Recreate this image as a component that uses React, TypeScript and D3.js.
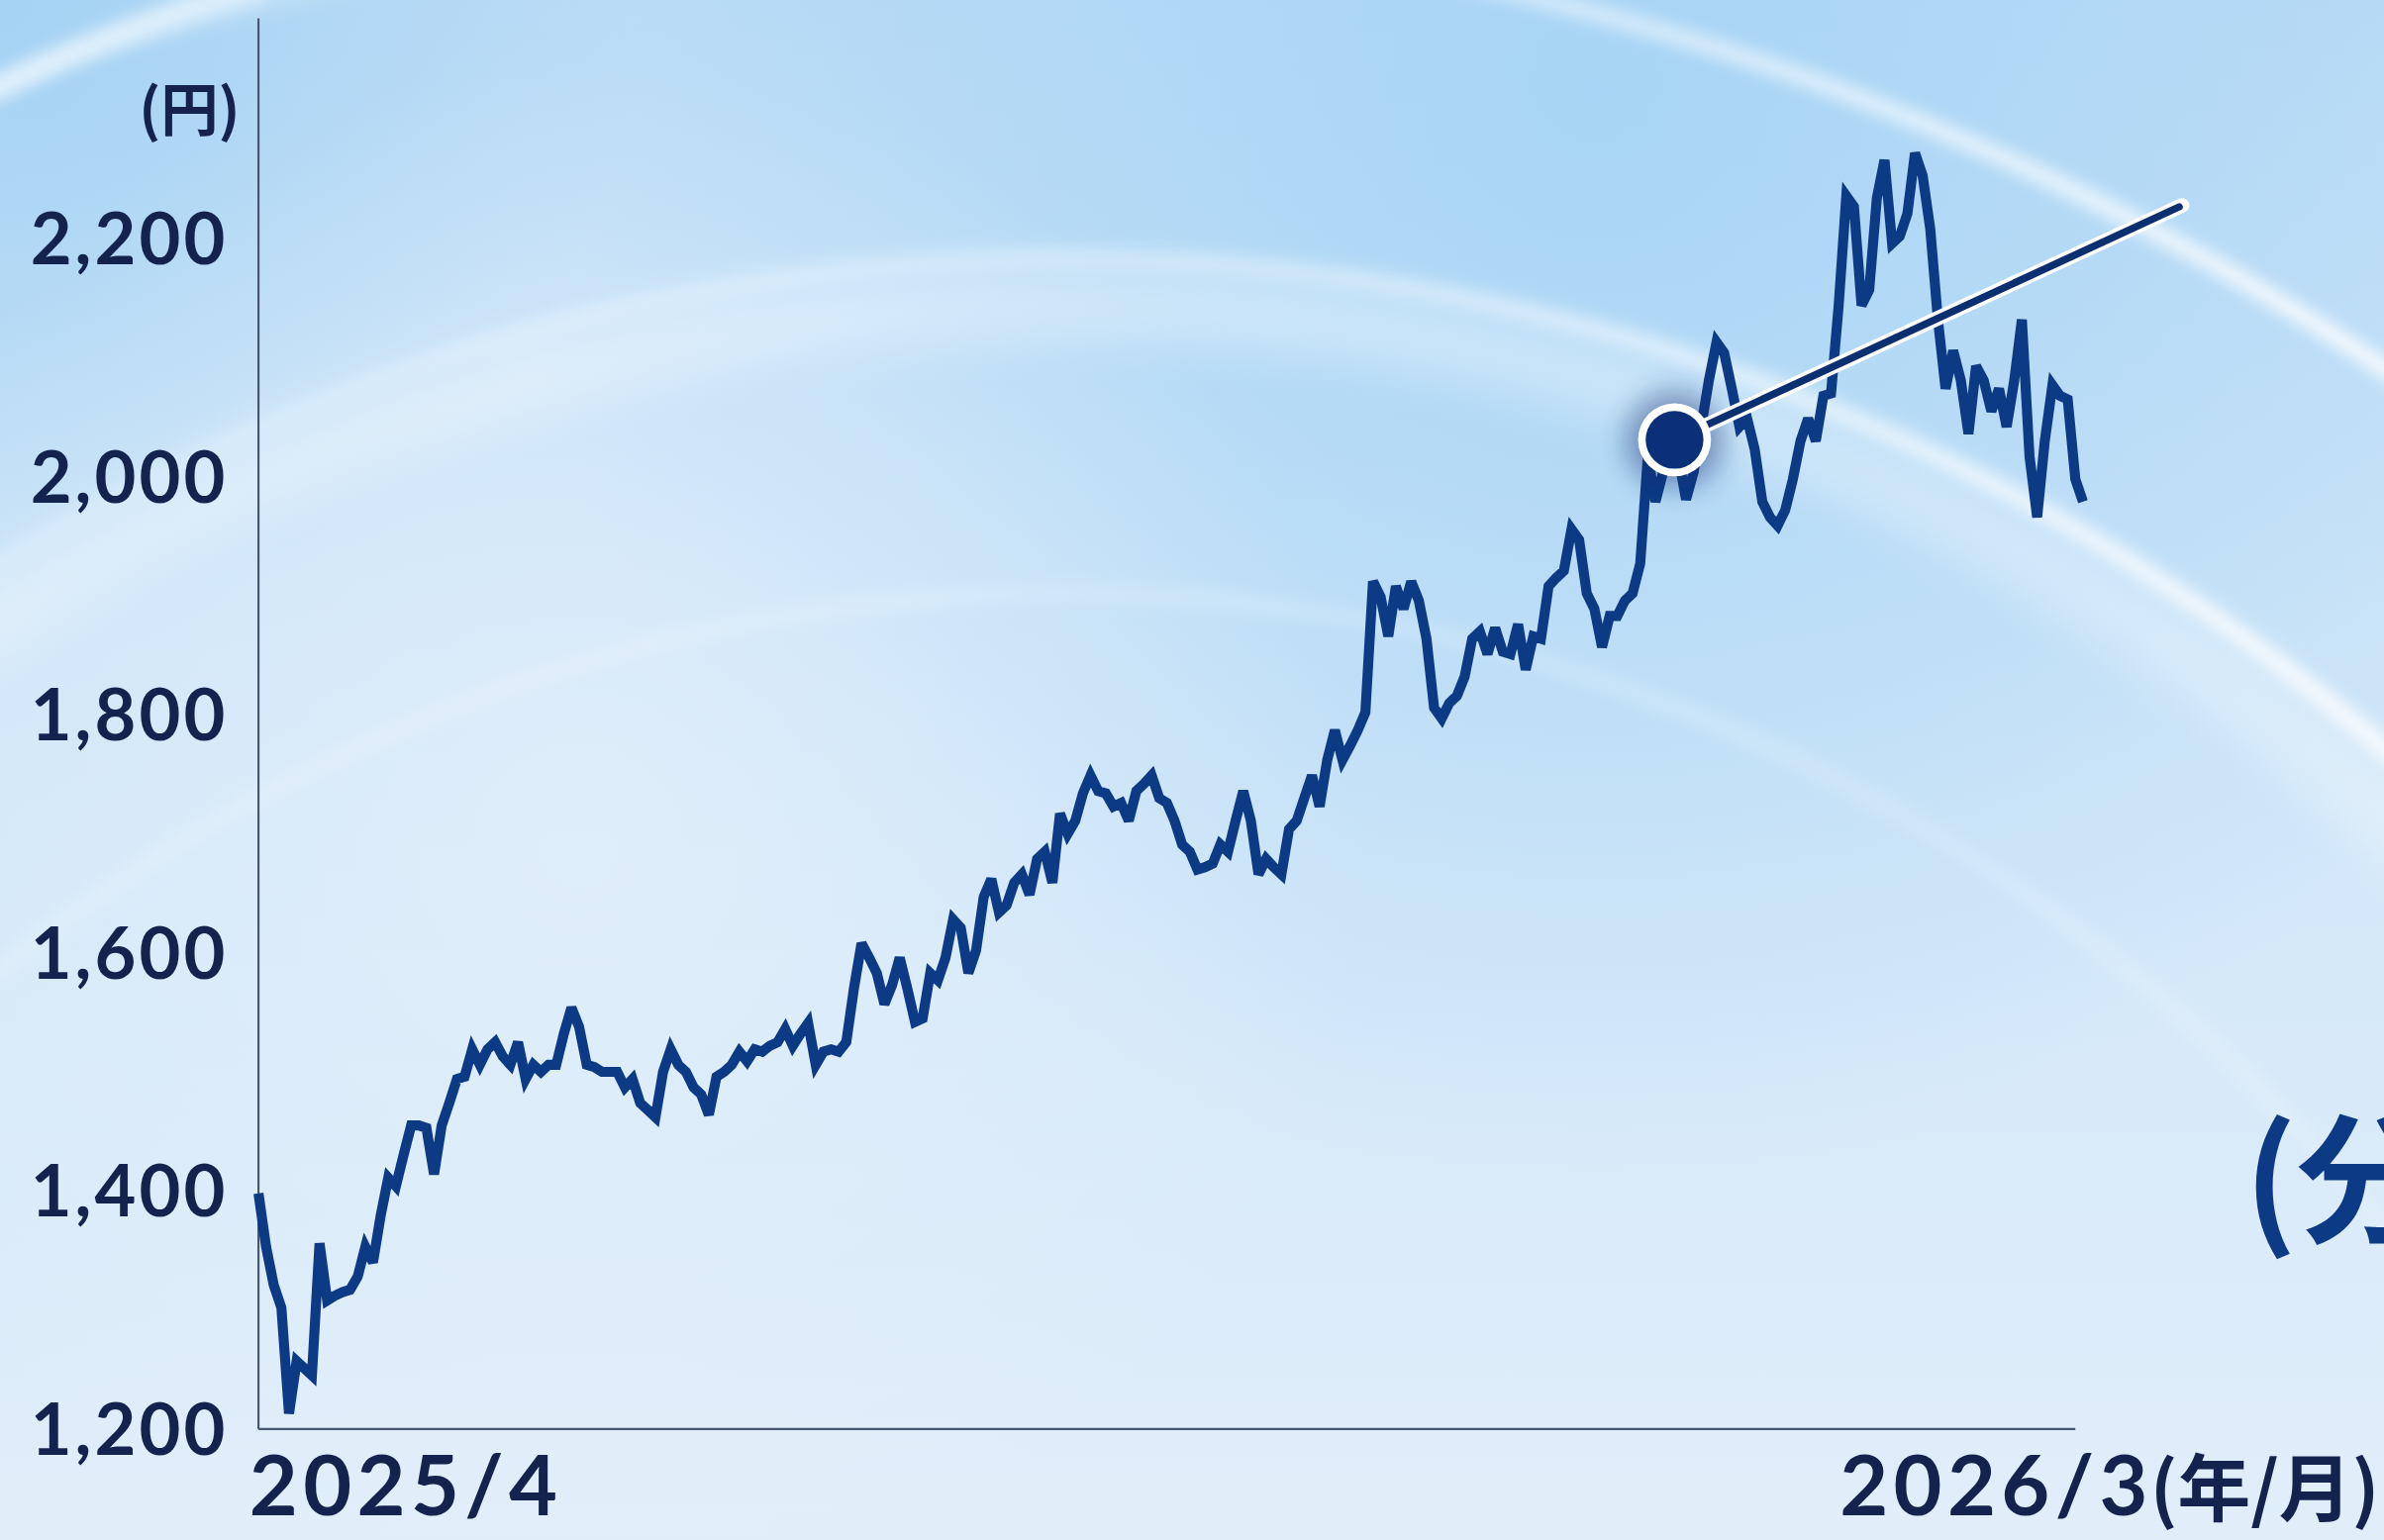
import * as d3 from "d3";

// canvas is drawn in the reference's 1568-wide units and stretched to the page
const VIEW_W = 1568;
const VIEW_H = 1013;
const MARGIN = { top: 12, right: 200, bottom: 73, left: 170 };

// share price (円), one reading per trading day, 2025/4 → 2026/3
const prices = [
  1398, 1353, 1321, 1302, 1213, 1257, 1251, 1245, 1356, 1308, 1312, 1315, 1317, 1328, 1353, 1340,
  1379, 1411, 1404, 1430, 1455, 1455, 1453, 1414, 1455, 1474, 1494, 1496, 1519, 1506, 1519, 1525,
  1513, 1506, 1525, 1494, 1506, 1500, 1506, 1506, 1532, 1554, 1538, 1506, 1504, 1500, 1500, 1500,
  1487, 1494, 1474, 1468, 1462, 1500, 1519, 1506, 1500, 1487, 1481, 1464, 1496, 1500, 1506, 1517,
  1509, 1519, 1517, 1522, 1525, 1536, 1522, 1532, 1541, 1506, 1517, 1519, 1517, 1525, 1570, 1608,
  1596, 1583, 1557, 1573, 1596, 1570, 1542, 1545, 1583, 1577, 1596, 1628, 1621, 1583, 1602, 1647,
  1662, 1634, 1640, 1659, 1666, 1649, 1679, 1685, 1659, 1717, 1700, 1711, 1734, 1749, 1736, 1734,
  1723, 1726, 1711, 1736, 1742, 1749, 1730, 1726, 1711, 1691, 1685, 1670, 1672, 1675, 1691, 1685,
  1711, 1736, 1711, 1666, 1679, 1672, 1666, 1704, 1711, 1730, 1749, 1723, 1762, 1787, 1762, 1774,
  1787, 1802, 1912, 1899, 1866, 1908, 1889, 1912, 1896, 1864, 1806, 1797, 1810, 1816, 1832,
  1864, 1870, 1851, 1873, 1853, 1851, 1876, 1838, 1866, 1864, 1908, 1915, 1921, 1956, 1947, 1902,
  1889, 1857, 1883, 1883, 1896, 1902, 1927, 2017, 1979, 2004, 2010, 2017, 1981, 2004, 2042,
  2081, 2113, 2104, 2074, 2042, 2049, 2023, 1979, 1966, 1959, 1972, 1998, 2030, 2049, 2030, 2068,
  2070, 2144, 2236, 2227, 2144, 2157, 2234, 2266, 2196, 2202, 2221, 2272, 2253, 2208, 2132, 2074,
  2106, 2081, 2036, 2093, 2081, 2055, 2074, 2042, 2081, 2132, 2017, 1966, 2030, 2077, 2068, 2065,
  1998, 1979,
];

const yTicks = [1200, 1400, 1600, 1800, 2000, 2200];
const xLabels = ["2025/4", "2026/3"];
const unitLabel = "(円)";
const xUnitLabel = "(年/月)";
const sideNote = "(分割調整後)";

// callout: marker on the line and the leader that runs up to the right
const callout = { index: 185.5, value: 2031 };
const calloutEnd = { index: 252, value: 2228 };

const NAVY = "#0d3a85";
const INK = "#14234d";
const FONT = "Lato, 'Noto Sans', sans-serif";
const CJK = "'Noto Sans CJK JP', 'Noto Sans', sans-serif";

export default function App() {
  const boundsW = VIEW_W - MARGIN.left - MARGIN.right;
  const bottom = VIEW_H - MARGIN.bottom;

  const xScale = d3
    .scaleLinear()
    .domain([0, prices.length - 1])
    .range([MARGIN.left, MARGIN.left + boundsW + 2]);

  const yScale = d3.scaleLinear().domain([1200, 2200]).range([bottom, 157]);

  const line = d3
    .line<number>()
    .x((_, i) => xScale(i))
    .y((d) => yScale(d))
    .curve(d3.curveLinear);

  const fmt = d3.format(",");

  const cx = xScale(callout.index);
  const cy = yScale(callout.value);
  const ex = xScale(calloutEnd.index);
  const ey = yScale(calloutEnd.value);

  return (
    <svg
      width={2408}
      height={1556}
      viewBox={`0 0 ${VIEW_W} ${VIEW_H}`}
      preserveAspectRatio="none"
      style={{ position: "fixed", left: 0, top: 0, display: "block" }}
    >
      <defs>
        <linearGradient id="bg" x1="0" y1="0" x2="0" y2="1">
          <stop offset="0" stopColor="#bcdcf6" />
          <stop offset="0.45" stopColor="#d0e6f8" />
          <stop offset="1" stopColor="#e1eefa" />
        </linearGradient>
        <radialGradient id="sky" cx="1050" cy="60" r="720" gradientUnits="userSpaceOnUse">
          <stop offset="0" stopColor="#a6d4f5" stopOpacity="0.9" />
          <stop offset="1" stopColor="#a6d4f5" stopOpacity="0" />
        </radialGradient>
        <radialGradient id="corner" cx="0" cy="0" r="420" gradientUnits="userSpaceOnUse">
          <stop offset="0" stopColor="#9fd0f3" stopOpacity="0.8" />
          <stop offset="1" stopColor="#9fd0f3" stopOpacity="0" />
        </radialGradient>
        <radialGradient id="pale" cx="380" cy="560" r="520" gradientUnits="userSpaceOnUse">
          <stop offset="0" stopColor="#e4f0fb" stopOpacity="0.7" />
          <stop offset="1" stopColor="#e4f0fb" stopOpacity="0" />
        </radialGradient>
        <linearGradient id="fadeArc" x1="0" y1="0" x2={VIEW_W} y2="0" gradientUnits="userSpaceOnUse">
          <stop offset="0" stopColor="#ffffff" stopOpacity="0.15" />
          <stop offset="0.55" stopColor="#ffffff" stopOpacity="0.35" />
          <stop offset="1" stopColor="#ffffff" stopOpacity="0.85" />
        </linearGradient>
        <filter id="soft" x="-20%" y="-20%" width="140%" height="140%">
          <feGaussianBlur stdDeviation="5" />
        </filter>
        <filter id="wide" x="-20%" y="-20%" width="140%" height="140%">
          <feGaussianBlur stdDeviation="14" />
        </filter>
        <filter id="glow" x="-100%" y="-100%" width="300%" height="300%">
          <feGaussianBlur stdDeviation="9" />
        </filter>
      </defs>

      {/* background */}
      <rect width={VIEW_W} height={VIEW_H} fill="url(#bg)" />
      <rect width={VIEW_W} height={VIEW_H} fill="url(#sky)" />
      <rect width={VIEW_W} height={VIEW_H} fill="url(#corner)" />
      <rect width={VIEW_W} height={VIEW_H} fill="url(#pale)" />
      <g fill="none">
        <circle cx={700} cy={1500} r={1300} stroke="#ffffff" strokeWidth={50} opacity={0.3} filter="url(#wide)" />
        <circle cx={600} cy={1700} r={1750} stroke="url(#fadeArc)" strokeWidth={12} filter="url(#soft)" />
        <circle cx={700} cy={1500} r={1330} stroke="url(#fadeArc)" strokeWidth={12} filter="url(#soft)" />
        <circle cx={700} cy={1500} r={1110} stroke="#ffffff" strokeWidth={12} opacity={0.18} filter="url(#soft)" />
        <path d="M -10 62 Q 70 20 175 -10" stroke="#ffffff" strokeWidth={16} opacity={0.6} filter="url(#soft)" />
      </g>

      {/* axes */}
      <line
        x1={MARGIN.left}
        x2={MARGIN.left}
        y1={MARGIN.top}
        y2={bottom}
        stroke="#46566e"
        strokeWidth={1.4}
      />
      <line
        x1={MARGIN.left}
        x2={MARGIN.left + boundsW - 3}
        y1={bottom}
        y2={bottom}
        stroke="#46566e"
        strokeWidth={1.4}
      />

      {yTicks.map((t) => (
        <text
          key={t}
          x={150}
          y={yScale(t)}
          dy="0.36em"
          textAnchor="end"
          fontFamily={FONT}
          fontWeight={700}
          fontSize={47}
          letterSpacing={2}
          fill={INK}
        >
          {fmt(t)}
        </text>
      ))}
      <text
        x={158}
        y={86}
        textAnchor="end"
        fontFamily={CJK}
        fontWeight={700}
        fontSize={38}
        fill={INK}
      >
        {unitLabel}
      </text>

      <text
        x={164}
        y={997}
        fontFamily={FONT}
        fontWeight={700}
        fontSize={55}
        letterSpacing={3.5}
        fill={INK}
      >
        {xLabels[0]}
      </text>
      <text
        x={1565}
        y={997}
        textAnchor="end"
        fontFamily={FONT}
        fontWeight={700}
        fontSize={55}
        fill={INK}
      >
        <tspan letterSpacing={3.5}>{xLabels[1]}</tspan>
        <tspan fontFamily={CJK} fontSize={48} dx={-2}>
          {xUnitLabel}
        </tspan>
      </text>

      <text
        x={1476}
        y={810}
        fontFamily={CJK}
        fontWeight={700}
        fontSize={92}
        fill={NAVY}
      >
        {sideNote}
      </text>

      {/* price line */}
      <path
        d={line(prices) ?? ""}
        fill="none"
        stroke={NAVY}
        strokeWidth={6.6}
        strokeLinejoin="miter"
        strokeMiterlimit={3}
      />

      {/* callout */}
      <circle cx={cx} cy={cy} r={32} fill="#0b2c70" opacity={0.45} filter="url(#glow)" />
      <line x1={cx} y1={cy} x2={ex} y2={ey} stroke="#ffffff" strokeWidth={9.5} strokeLinecap="round" />
      <line x1={cx} y1={cy} x2={ex - 2} y2={ey + 1} stroke="#0c2f72" strokeWidth={4.8} strokeLinecap="round" />
      <circle cx={cx} cy={cy} r={24} fill="#ffffff" />
      <circle cx={cx} cy={cy} r={19} fill="#0b2f78" />
    </svg>
  );
}
